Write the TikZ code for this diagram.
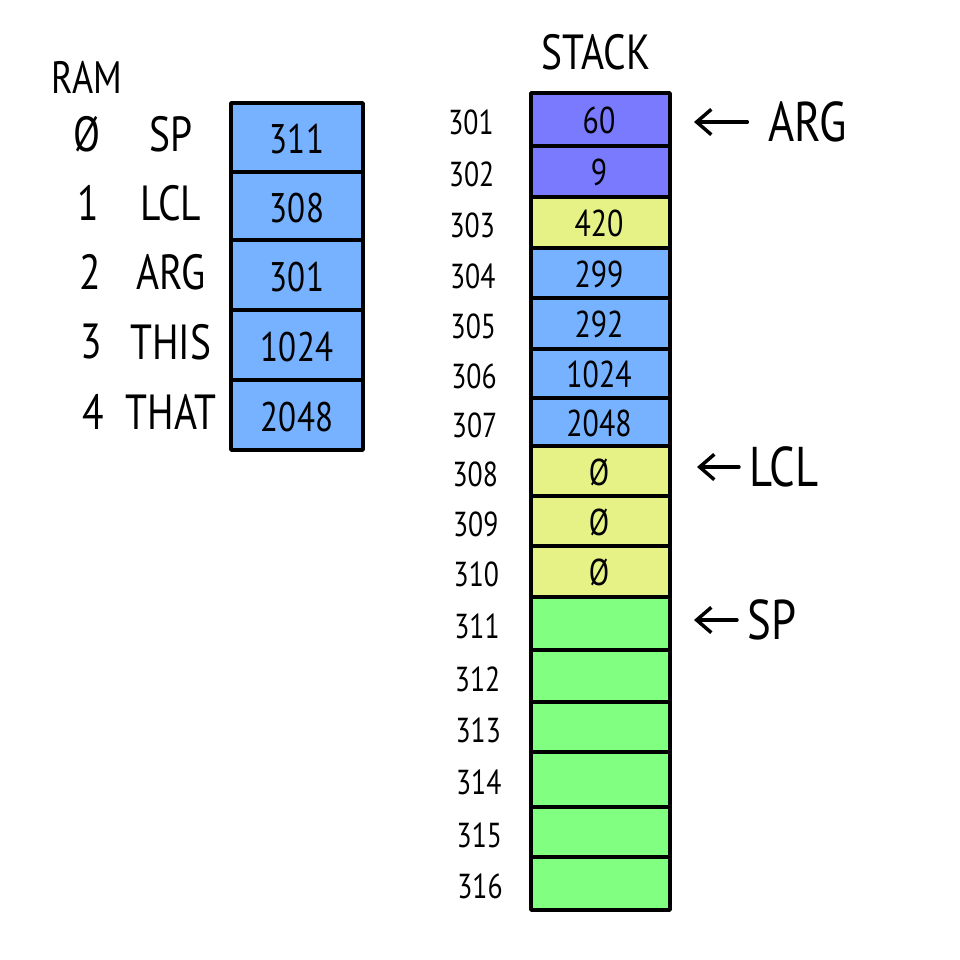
\documentclass[tikz,border=0pt]{standalone}
\usepackage{fontspec}
\setmainfont[FakeStretch=0.8]{PT Sans}
\usetikzlibrary{arrows.meta}

\definecolor{ramblue}{RGB}{118,178,255}
\definecolor{argviolet}{RGB}{122,122,255}
\definecolor{lclyellow}{RGB}{230,242,133}
\definecolor{freegreen}{RGB}{128,255,128}

\tikzset{every picture/.style={line width=2.6pt}}

\begin{document}
\begin{tikzpicture}[x=0.75pt,y=0.75pt,yscale=-1,xscale=1,
  cell/.style={draw=black,line join=round},
  val/.style={inner sep=0.75pt,font=\fontsize{31}{34}\selectfont},
  sval/.style={inner sep=0.75pt,font=\fontsize{28}{31}\selectfont},
  addr/.style={inner sep=0.75pt,font=\fontsize{26}{29}\selectfont},
  title/.style={inner sep=0.75pt,font=\fontsize{34}{38}\selectfont},
  reg/.style={inner sep=0.75pt,font=\fontsize{37}{40}\selectfont},
  tag/.style={anchor=west,inner sep=0.75pt,font=\fontsize{42}{46}\selectfont},
  ptr/.style={-{Straight Barb[length=11pt,width=19pt]},line cap=round,shorten <=6pt}]
\useasboundingbox (0,0) rectangle (960,960);

%RAM
\node[title] (ram) at (87,77) {RAM};
\foreach \t/\b/\n/\r/\v [count=\i from 0] in {103/172/Ø/SP/311,172/240/1/LCL/308,240/310/2/ARG/301,310/380/3/THIS/1024,380/450/4/THAT/2048}{
  \draw[cell,fill=ramblue] (231,\t) rectangle (363,\b);
  \node[val] (r\i) at (297,{(\t+\b)/2+2}) {\v};
  \node[reg] (n\i) at (171,{(\t+\b)/2-3}) {\r};
  \node[reg] (k\i) at ({87+1.5*\i},{(\t+\b)/2-3}) {\n};
}

%STACK
\node[title,font=\fontsize{37}{40}\selectfont] (stack) at (596,52) {STACK};
\foreach \t/\b/\c/\v [count=\i from 301] in {93/146/argviolet/60,146/197/argviolet/9,197/248/lclyellow/420,248/298/ramblue/299,298/349/ramblue/292,349/398/ramblue/1024,398/446/ramblue/2048,446/496/lclyellow/Ø,496/546/lclyellow/Ø,546/597/lclyellow/Ø,597/650/freegreen/,650/702/freegreen/,702/752/freegreen/,752/807/freegreen/,807/857/freegreen/,857/910/freegreen/}{
  \draw[cell,fill=\c] (531,\t) rectangle (670,\b);
  \node[sval] (s\i) at (599,{(\t+\b)/2+1}) {\v};
  \node[addr] (a\i) at ({471+0.6*(\i-301)},{(\t+\b)/2+3}) {\i};
}

%pointers
\node[tag] (argtag) at (766,122) {ARG};
\node[tag] (lcltag) at (747,467) {LCL};
\node[tag] (sptag) at (745,620) {SP};
\coordinate (argtip) at (694,122);
\coordinate (lcltip) at (697,467);
\coordinate (sptip) at (694,620);
\draw[ptr,shorten <=14pt] (argtag.west) -- (argtip);
\draw[ptr] (lcltag.west) -- (lcltip);
\draw[ptr] (sptag.west) -- (sptip);

\end{tikzpicture}
\end{document}
